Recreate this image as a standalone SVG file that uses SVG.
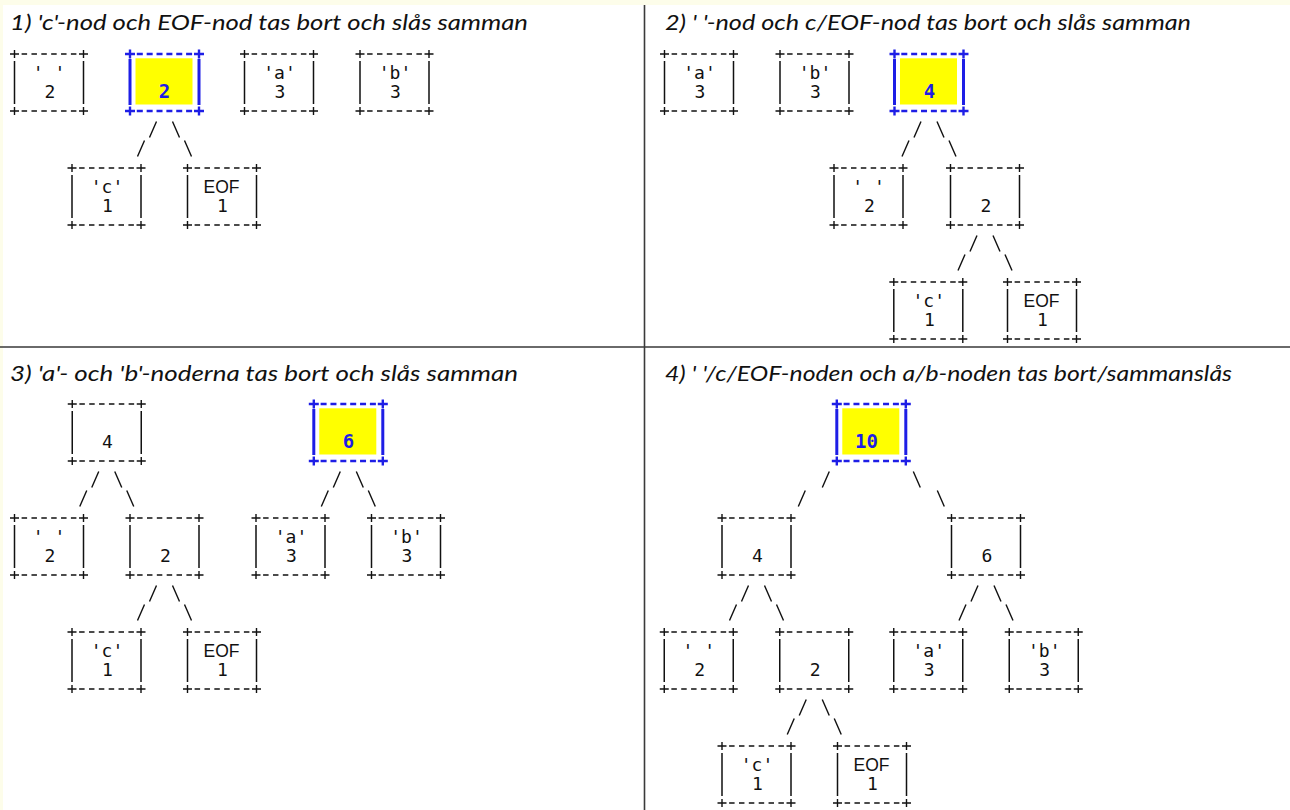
<svg xmlns="http://www.w3.org/2000/svg" xmlns:xlink="http://www.w3.org/1999/xlink" width="1290" height="810" viewBox="0 0 1290 810">
<style>
.t{font-family:Lato,"Liberation Sans",sans-serif;font-style:italic;font-size:21px;fill:#111}
.l{font-family:"DejaVu Sans Mono","Liberation Mono",monospace;font-size:18px;fill:#111;text-anchor:middle}
.e{font-family:"Liberation Sans",Arial,sans-serif;font-size:17.5px;fill:#111;text-anchor:middle}
.h{font-family:"DejaVu Sans Mono","Liberation Mono",monospace;font-size:19px;font-weight:bold;fill:#1e1ee6;text-anchor:middle}
.c{fill:none;stroke:#111;stroke-width:1.4}
</style>
<defs>
<g id="fr" fill="none" stroke="#111">
<path d="M7.1 0H61.9M7.1 57H61.9" stroke-width="1.4" stroke-dasharray="5.5 4.36"/>
<path d="M-4.5 0H4.5M0 -4V4M64.5 0H73.5M69 -4V4M-4.5 57H4.5M0 53V61M64.5 57H73.5M69 53V61" stroke-width="1.4"/>
<path d="M0 7V50M69 7V50" stroke-width="1.5"/>
</g>
<g id="frh" fill="none" stroke="#1e1ee6">
<rect x="5.5" y="4.3" width="57" height="46.2" fill="#ffff00" stroke="none"/>
<path d="M6.8 0H62.2M6.8 57H62.2" stroke-width="2.6" stroke-dasharray="6 3.86"/>
<path d="M-5 0H5M0 -4.5V4.5M64 0H74M69 -4.5V4.5M-5 57H5M0 52.5V61.5M64 57H74M69 52.5V61.5" stroke-width="2.4"/>
<path d="M0 5V51M69 5V51" stroke-width="3"/>
</g>
</defs>
<rect width="1290" height="810" fill="#fdfdea"/>
<rect x="3" y="5" width="1287" height="805" fill="#ffffff"/>
<path d="M0 347H1290M644.5 5V810" stroke="#3a3a3a" stroke-width="1.6" fill="none"/>

<g id="titles">
<text class="t" x="10" y="30" textLength="518" lengthAdjust="spacingAndGlyphs">1) 'c'-nod och EOF-nod tas bort och slås samman</text>
<text class="t" x="665" y="30" textLength="526" lengthAdjust="spacingAndGlyphs" xml:space="preserve">2) ' '-nod och c/EOF-nod tas bort och slås samman</text>
<text class="t" x="10" y="381" textLength="508" lengthAdjust="spacingAndGlyphs">3) 'a'- och 'b'-noderna tas bort och slås samman</text>
<text class="t" x="665" y="381" textLength="567" lengthAdjust="spacingAndGlyphs" xml:space="preserve">4) ' '/c/EOF-noden och a/b-noden tas bort/sammanslås</text>
</g>

<g id="connectors" class="c">
<path d="M149.5 137.5L156.5 121.5M137.5 156.5L144.5 140.5M172.5 121.5L179.5 137.5M184.5 140.5L191.5 156.5"/>
<path d="M914 137.5L921 121.5M902 156.5L909 140.5M937 121.5L944 137.5M949 140.5L956 156.5"/>
<path d="M970 251.5L977 235.5M958 270.5L965 254.5M993 235.5L1000 251.5M1005 254.5L1012 270.5"/>
<path d="M91.75 487.5L98.75 471.5M79.75 506.5L86.75 490.5M114.75 471.5L121.75 487.5M126.75 490.5L133.75 506.5"/>
<path d="M333.3 487.5L340.3 471.5M321.3 506.5L328.3 490.5M356.3 471.5L363.3 487.5M368.3 490.5L375.3 506.5"/>
<path d="M149.5 601.5L156.5 585.5M137.5 620.5L144.5 604.5M172.5 585.5L179.5 601.5M184.5 604.5L191.5 620.5"/>
<path d="M822.3 487.5L829.3 471.5M798.3 506.5L805.3 490.5M913.3 471.5L920.3 487.5M937.3 490.5L944.3 506.5"/>
<path d="M741.5 601.5L748.5 585.5M729.5 620.5L736.5 604.5M764.5 585.5L771.5 601.5M776.5 604.5L783.5 620.5"/>
<path d="M971 601.5L978 585.5M959 620.5L966 604.5M994 585.5L1001 601.5M1006 604.5L1013 620.5"/>
<path d="M799.25 715.5L806.25 699.5M787.25 734.5L794.25 718.5M822.25 699.5L829.25 715.5M834.25 718.5L841.25 734.5"/>
</g>

<g id="n1a"><use href="#fr" x="14.5" y="54"/><text class="l" x="49" y="78.5" xml:space="preserve">' '</text><text class="l" x="50" y="98">2</text></g>
<g id="n1b"><use href="#frh" x="130" y="54"/><text class="h" x="164.5" y="98">2</text></g>
<g id="n1c"><use href="#fr" x="244.5" y="54"/><text class="l" x="279.5" y="78.5">'a'</text><text class="l" x="280" y="98">3</text></g>
<g id="n1d"><use href="#fr" x="360" y="54"/><text class="l" x="395" y="78.5">'b'</text><text class="l" x="395.5" y="98">3</text></g>
<g id="n1e"><use href="#fr" x="72" y="168"/><text class="l" x="107" y="192.5">'c'</text><text class="l" x="107.5" y="212">1</text></g>
<g id="n1f"><use href="#fr" x="187.5" y="168"/><text class="e" x="221.5" y="192.5">EOF</text><text class="l" x="222.5" y="212">1</text></g>

<g id="n2a"><use href="#fr" x="664.5" y="54"/><text class="l" x="699.5" y="78.5">'a'</text><text class="l" x="700" y="98">3</text></g>
<g id="n2b"><use href="#fr" x="780" y="54"/><text class="l" x="815" y="78.5">'b'</text><text class="l" x="815.5" y="98">3</text></g>
<g id="n2c"><use href="#frh" x="894.5" y="54"/><text class="h" x="929.5" y="98">4</text></g>
<g id="n2d"><use href="#fr" x="834" y="168"/><text class="l" x="868.5" y="192.5" xml:space="preserve">' '</text><text class="l" x="869.5" y="212">2</text></g>
<g id="n2e"><use href="#fr" x="950.5" y="168"/><text class="l" x="986" y="212">2</text></g>
<g id="n2f"><use href="#fr" x="893.8" y="282"/><text class="l" x="928.8" y="306.5">'c'</text><text class="l" x="929.3" y="326">1</text></g>
<g id="n2g"><use href="#fr" x="1007.5" y="282"/><text class="e" x="1041.5" y="306.5">EOF</text><text class="l" x="1042.5" y="326">1</text></g>

<g id="n3a"><use href="#fr" x="72.25" y="404"/><text class="l" x="107.5" y="448">4</text></g>
<g id="n3b"><use href="#frh" x="313.8" y="404"/><text class="h" x="348.5" y="448">6</text></g>
<g id="n3c"><use href="#fr" x="14.5" y="518"/><text class="l" x="49" y="542.5" xml:space="preserve">' '</text><text class="l" x="50" y="562">2</text></g>
<g id="n3d"><use href="#fr" x="130" y="518"/><text class="l" x="165.5" y="562">2</text></g>
<g id="n3e"><use href="#fr" x="256" y="518"/><text class="l" x="291" y="542.5">'a'</text><text class="l" x="291.5" y="562">3</text></g>
<g id="n3f"><use href="#fr" x="371.5" y="518"/><text class="l" x="406.5" y="542.5">'b'</text><text class="l" x="407" y="562">3</text></g>
<g id="n3g"><use href="#fr" x="72" y="632"/><text class="l" x="107" y="656.5">'c'</text><text class="l" x="107.5" y="676">1</text></g>
<g id="n3h"><use href="#fr" x="187.5" y="632"/><text class="e" x="221.5" y="656.5">EOF</text><text class="l" x="222.5" y="676">1</text></g>

<g id="n4a"><use href="#frh" x="836.8" y="404"/><text class="h" x="866.5" y="448">10</text></g>
<g id="n4b"><use href="#fr" x="722" y="518"/><text class="l" x="757.5" y="562">4</text></g>
<g id="n4c"><use href="#fr" x="951.5" y="518"/><text class="l" x="987" y="562">6</text></g>
<g id="n4d"><use href="#fr" x="664.25" y="632"/><text class="l" x="698.75" y="656.5" xml:space="preserve">' '</text><text class="l" x="699.75" y="676">2</text></g>
<g id="n4e"><use href="#fr" x="779.75" y="632"/><text class="l" x="815.25" y="676">2</text></g>
<g id="n4f"><use href="#fr" x="893.75" y="632"/><text class="l" x="928.75" y="656.5">'a'</text><text class="l" x="929.25" y="676">3</text></g>
<g id="n4g"><use href="#fr" x="1009.25" y="632"/><text class="l" x="1044.25" y="656.5">'b'</text><text class="l" x="1044.75" y="676">3</text></g>
<g id="n4h"><use href="#fr" x="722" y="746"/><text class="l" x="757" y="770.5">'c'</text><text class="l" x="757.5" y="790">1</text></g>
<g id="n4i"><use href="#fr" x="837.5" y="746"/><text class="e" x="871.5" y="770.5">EOF</text><text class="l" x="872.5" y="790">1</text></g>
</svg>
